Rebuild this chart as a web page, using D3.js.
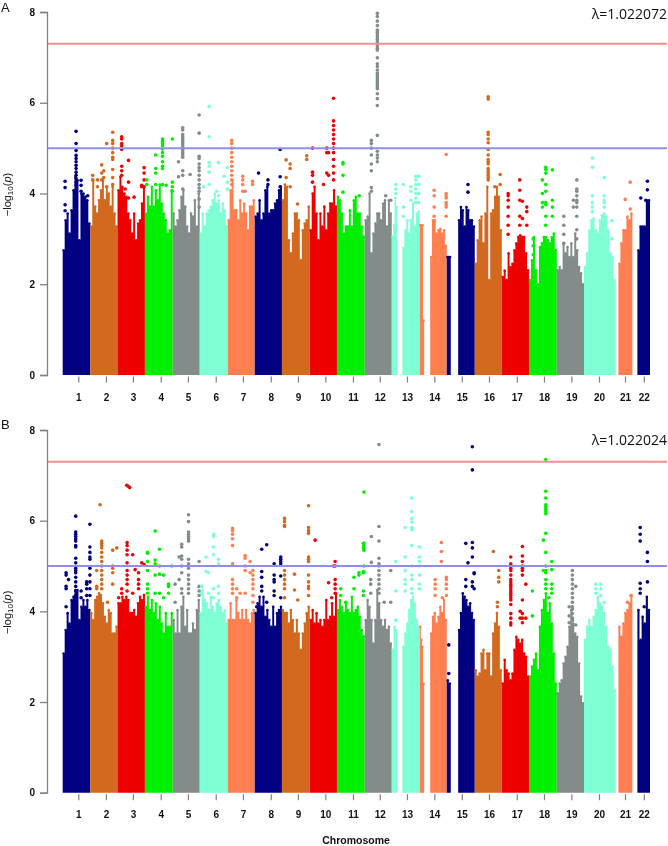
<!DOCTYPE html>
<html><head><meta charset="utf-8">
<script src="https://cdn.jsdelivr.net/npm/d3@7"></script>
<style>html,body{margin:0;padding:0;background:#fff}svg{display:block;filter:blur(.4px)}</style>
</head><body><svg id="c" width="668" height="846"></svg>
<script>
const chromosomes=["1","2","3","4","5","6","7","8","9","10","11","12","13","14","15","16","17","18","19","20","21","22"];
const chromEnds=[138,274,411,550,685,825,960,1096,1235,1371,1510,1645,1785,1920,2060,2195,2331,2470,2606,2765,2848,2936];
const tickPositions=[78,216,351,490,626,765,901,1040,1176,1313,1451,1585,1721,1858,1995,2131,2270,2406,2543,2681,2811,2905];
const palette=["#000080","#D2691E","#EE0000","#00EE00","#838B8B","#7FFFD4","#FF7F50"];
const yTicks=[0,2,4,6,8];
const genomeWide=7.3, suggestive=5;
// genotyped regions [start,end] and the chromosome each belongs to
const spans=[[0,138],[138,274],[274,411],[411,550],[550,685],[685,825],[825,960],[960,1096],[1096,1235],[1235,1371],[1371,1510],[1510,1645],[1645,1673],[1698,1785],[1785,1807],[1837,1920],[1920,1940],[1977,2060],[2060,2195],[2195,2331],[2331,2470],[2470,2606],[2606,2765],[2778,2848],[2873,2936]];
const spanChrom=[0,1,2,3,4,5,6,7,8,9,10,11,12,12,13,13,14,14,15,16,17,18,19,20,21];
// upper edge of the dense SNP cloud, read along each region
const massA=[
[2.75,3.41,3.56,3.12,3.63,4.07,4.37,4.29,2.97,4.0,4.0,3.93,3.85,3.34],
[3.27,4.29,3.71,3.56,3.85,4.07,4.29,3.85,4.15,4.0,3.71,4.15,3.56,3.27],
[4.07,4.37,4.15,4.0,3.93,3.56,3.41,3.12,3.56,2.97,3.34,3.41,3.78,4.15],
[3.56,3.93,3.71,4.15,3.71,4.07,3.85,4.2,3.78,3.56,3.41,3.12,3.19,4.07],
[3.56,3.27,3.41,3.63,3.93,4.07,3.71,3.27,3.12,3.56,3.49,3.85,3.27,4.0],
[3.12,3.56,3.27,3.56,3.63,3.71,3.85,4.0,3.78,3.85,3.56,3.78,3.63,3.27],
[3.41,4.07,4.29,3.63,3.63,3.41,3.85,3.56,3.78,3.56,3.19,3.71,3.71,3.85],
[3.49,3.56,3.85,3.41,3.56,4.07,4.15,3.56,3.63,3.63,3.78,3.85,4.07,4.15],
[3.85,4.2,4.15,2.97,2.68,3.12,3.56,3.56,3.41,2.53,3.19,3.34,3.41,3.71],
[3.19,4.0,4.15,3.56,2.97,3.56,3.27,3.71,3.19,3.56,3.78,3.78,4.07,3.71],
[3.93,3.85,3.56,3.12,3.27,3.27,3.63,3.27,3.85,3.93,3.56,3.56,3.27,3.05],
[3.41,3.49,4.0,2.68,3.12,3.34,3.56,3.56,3.41,3.78,3.85,3.27,3.85,3.56],
[3.05,3.3,3.9,3.7],
[2.8,3.19,3.41,3.12,3.41,3.78,3.27,3.56,3.6],
[3.3,3.3,3.3,1.2],
[2.6,3.41,3.41,3.12,3.19,3.22,3.12,3.19,2.85],
[2.6,2.6,2.6],
[3.41,3.7,3.63,3.27,3.7,3.63,3.41,3.41,3.27],
[2.45,2.97,3.41,3.49,2.9,3.56,4.15,2.09,3.56,3.63,3.93,4.15,3.93,3.19],
[2.16,2.3,2.09,2.68,2.38,2.45,2.75,2.9,3.04,3.08,3.04,3.04,2.68,2.31],
[2.09,2.53,3.04,2.31,2.0,2.82,2.9,3.04,3.04,2.97,2.9,3.04,3.12,2.75],
[2.31,2.38,2.31,2.9,2.68,2.82,2.6,2.9,2.6,3.12,2.75,2.38,2.24,2.0],
[2.38,2.68,3.19,3.41,3.45,3.19,3.12,3.41,3.52,3.56,3.49,3.19,2.68,2.6,2.09],
[2.45,2.9,3.19,3.19,3.49,3.41,3.56],
[2.75,3.27,3.27,3.27,3.85,3.85]];
const massB=[
[3.07,3.59,3.96,3.73,4.25,4.32,4.47,4.47,3.81,4.1,4.25,4.1,4.25,4.03],
[3.96,3.81,4.25,4.32,4.4,4.36,4.18,3.88,3.73,4.03,3.96,3.51,3.51,3.66],
[4.18,4.18,4.32,4.25,4.32,4.25,3.96,3.96,4.03,3.88,4.18,4.32,4.25,4.36],
[4.1,4.32,4.03,4.25,3.96,4.18,3.81,4.1,3.73,3.51,3.96,3.66,3.66,3.96],
[3.81,3.51,4.03,3.51,4.1,4.32,3.66,4.03,3.51,3.51,3.73,3.59,4.03,4.25],
[3.96,4.47,4.25,4.18,4.03,4.32,4.1,3.96,4.18,4.25,4.1,3.96,4.03,3.73],
[3.81,4.18,3.81,3.81,4.25,3.96,3.81,4.03,3.81,4.03,3.81,3.73,3.96,4.03],
[3.96,4.18,4.32,4.1,4.32,3.88,4.03,3.81,3.66,4.1,3.66,3.96,4.03,4.1],
[4.03,3.96,3.96,3.73,4.03,3.81,3.51,3.81,3.51,3.15,3.51,3.73,3.96,4.1],
[3.81,4.03,3.73,3.96,3.73,3.81,3.66,3.81,4.25,3.81,3.88,4.18,3.88,4.4],
[4.03,4.25,4.1,3.96,4.18,4.03,3.96,4.32,3.96,4.03,4.1,3.88,3.59,3.45],
[3.81,4.25,4.1,3.81,3.29,3.81,4.47,4.18,3.81,3.66,3.81,3.59,3.66,3.29],
[3.15,3.66,3.59],
[3.22,3.51,3.73,4.03,4.25,4.32,4.18,3.81,3.66],
[3.66,3.37,3.22,2.4],
[3.51,3.88,3.96,3.73,3.88,4.1,3.96,4.25,3.81],
[2.48,2.41],
[3.59,3.96,4.4,4.32,4.25,4.1,4.18,3.96,3.81],
[2.7,2.56,2.63,3.07,3.15,2.7,3.07,3.07,2.56,3.51,3.73,3.96,3.66,2.7],
[2.41,2.93,2.7,2.63,2.48,2.63,3.15,3.44,3.37,3.29,3.37,3.07,3.0,2.56],
[2.56,2.78,2.93,3.07,2.7,3.66,4.03,4.25,4.4,3.96,4.18,3.73,3.07,2.41],
[2.19,2.41,2.48,2.85,3.0,3.22,3.66,4.03,3.73,3.51,3.44,2.85,2.12,1.97],
[3.37,3.66,3.81,3.66,3.88,4.03,4.32,4.18,4.1,3.96,3.66,3.22,3.15,2.78,2.26],
[3.66,3.44,3.73,3.96,4.03,4.18,4.36],
[4.03,3.37,3.88,3.73,4.32,4.03]];
// individual SNPs above the mass: [position,[-log10 p values]]
const snpsA=[
[67,[5.37,5.1,4.95,4.84,4.77,4.7,4.62,4.55,4.47,4.4,4.33,4.25,4.18,4.1]],[12,[4.27,4.13,3.75,3.62]],[92,[4.29,4.18,4.05]],[125,[3.95]],
[250,[5.35,5.17,5.1,5.0,4.9,4.8,4.75,4.53,4.35,4.2]],[220,[5.1,4.15]],[195,[4.63,4.45,4.3]],[205,[4.5,4.35]],[150,[4.4,4.3]],[174,[4.3,4.15]],
[295,[5.25,5.2,5.1,5.05,4.97,4.6,4.5,4.4]],[329,[4.73,4.25,3.9]],[357,[3.92]],[407,[4.57,4.45,4.3,4.15]],[395,[4.18,4.15]],[312,[4.1]],
[499,[5.2,5.15,5.1,5.05,4.98,4.9,4.82,4.7,4.6,4.55,4.2]],[548,[5.2,4.25,4.15,4.05]],[465,[4.85,4.55,4.45,4.2]],[420,[4.3,4.2]],[517,[4.18]],
[600,[5.45,5.4,5.3,5.25,5.2,5.15,5.1,5.05,5.0,4.95,4.9,4.85,4.8,4.5,4.4,4.1]],[579,[4.7,4.37]],[637,[4.42]],[682,[5.73,5.33,4.82,4.77,4.65,4.57,4.5,4.4,4.3,4.2,4.12,4.05,3.88,3.7]],
[732,[5.92,5.25,4.68,4.6,4.47,4.2]],[779,[4.68,3.95]],[704,[4.15]],[770,[4.05]],[807,[4.38]],[823,[4.57,4.25,4.1]],
[845,[5.17,5.1,5.0,4.9,4.8,4.7,4.6,4.5,4.4,4.3,4.2]],[900,[4.38,4.3,4.2,4.05]],[912,[4.05]],[949,[4.27,4.2]],
[979,[4.45]],[1026,[4.3,4.2]],[1087,[4.97,4.37,4.15]],
[1117,[4.74,4.35]],[1137,[4.65,4.55,4.15]],[1174,[3.77]],[1220,[4.83,4.75]],
[1249,[5.0,4.47,4.4,4.25]],[1320,[5.0,4.9,4.45]],[1304,[4.2]],[1354,[6.1,5.6,5.5,5.4,5.3,5.2,5.1,5.0,4.9,4.75,4.6,4.45,4.3]],[1329,[4.9,4.4]],
[1401,[4.68,4.65,4.4,4.03]],[1482,[3.95]],
[1573,[7.97,7.9,7.8,7.7,7.6,7.55,7.5,7.45,7.4,7.35,7.3,7.25,7.2,7.16,6.99,6.86,6.8,6.72,6.65,6.6,6.55,6.5,6.45,6.4,6.35,6.31,6.2,6.09,5.94,5.28,4.93,4.85,4.78,4.7]],[1543,[5.17,5.1,5.0,4.85,4.65,4.5,4.13,4.05]],[1615,[3.95]],[1640,[3.85]],
[1665,[4.2,4.1,4.0]],[1703,[4.2,3.7,3.5]],[1740,[4.15,4.05,3.85]],[1765,[4.38,4.3,4.2,4.1,4.0,3.9,3.8]],[1780,[4.38,4.2,4.0,3.8]],
[1857,[4.07,3.95,3.7,3.5]],[1917,[4.86,4.0,3.95,3.9,3.8,3.75,3.7,3.5]],
[2026,[4.2,4.03]],
[2127,[6.13,6.08,5.35,5.3,5.2,5.12,4.97,4.85,4.75,4.7,4.65,4.55,4.5,4.45,4.4,4.35,4.3]],[2160,[4.15]],[2187,[4.42,4.2]],
[2227,[4.0,3.95,3.85,3.7,3.5,3.3,3.1]],[2285,[4.3,4.07,3.85,3.5,3.3]],[2298,[3.83,3.45]],[2320,[3.7,3.6,3.3]],
[2415,[4.58,4.53,4.45,4.2,4.05,3.8,3.75,3.5,3.3]],[2448,[4.52,3.85,3.7,3.5]],[2398,[4.3,4.0,3.8,3.7]],[2352,[3.0,2.85,2.65]],
[2570,[4.3,4.1,4.05,3.95,3.85,3.8,3.7,3.5,3.2,3.0]],[2553,[3.85,3.7]],[2505,[3.5,3.3,3.1,2.9]],
[2648,[4.78,4.58,3.95,3.8,3.7,3.6]],[2707,[4.35,3.95,3.85,3.8,3.7]],[2745,[3.4,3.0]],
[2837,[4.25,3.66]],[2812,[3.87]],
[2923,[4.27,4.08]],[2890,[3.9]],[2915,[3.85]]];
const snpsB=[
[65,[6.1,5.75,5.7,5.65,5.6,5.55,5.45,5.42,5.17,5.07,4.95,4.9,4.85,4.75,4.65,4.55,4.45,4.35]],[136,[5.92,5.42,5.3,5.2,5.15,4.95,4.8,4.65,4.5,4.35]],[17,[4.85,4.8,4.55,4.5,4.1]],[29,[4.7]],[92,[4.45,4.3]],[120,[4.65,4.6,4.5,4.35]],
[195,[5.55,5.5,5.45,5.4,5.3,5.2,5.1,5.0,4.9,4.8,4.7,4.6,4.5]],[187,[6.35]],[170,[4.9,4.55,4.5]],[250,[5.35,5.0,4.95,4.85,4.6]],[270,[5.4]],[224,[4.2]],
[320,[6.78]],[327,[6.76]],[335,[6.73]],[322,[5.52,5.45,5.35,5.25,5.07,4.9,4.8,4.7,4.6,4.45]],[350,[5.25,4.4]],[362,[4.92]],[379,[4.85,4.7,4.6,4.5]],[395,[5.07]],[407,[5.03]],[295,[4.5,4.4]],[280,[4.3]],
[424,[5.3,5.28,5.1,4.9,4.6,4.5,4.4]],[462,[5.77,5.13,5.05,4.8,4.4]],[484,[5.37,5.0,4.82,4.4]],[504,[4.8,4.3]],[529,[4.6,4.55,4.4]],[545,[5.0]],
[629,[6.13,5.98,5.75,5.7,5.65,5.6,5.55,5.15,5.05,4.95,4.8,4.7,4.6,4.5,4.4]],[595,[5.48,5.42,5.22,5.15,5.0,4.85,4.5,4.4]],[582,[5.2,4.7]],[682,[5.1,4.55,4.45,4.35]],[562,[4.6,4.2]],
[754,[5.7,5.65,5.42,5.25,4.5,4.3]],[717,[5.2,4.88]],[729,[4.85,4.4]],[779,[5.15,5.05,4.55,4.4]],[695,[4.55,4.4]],
[849,[5.83,5.78,5.7,5.6,5.45,5.05,4.7,4.6,4.5,4.4]],[912,[5.23,5.17,5.0,4.9,4.4]],[937,[5.1,4.85]],[951,[4.9,4.8,4.7,4.6,4.5,4.35,4.2]],[870,[4.5,4.3]],[887,[4.4]],
[995,[5.37,4.88,4.75,4.55,4.45]],[1020,[5.47,4.2]],[1057,[5.05,4.8,4.7,4.65,4.45,4.35]],[1090,[5.2,5.15,5.1,5.05,4.78,4.3]],[970,[4.1]],
[1109,[6.05,5.98,5.9,5.87,4.9,4.8,4.7,4.6,4.5,4.3]],[1159,[4.82,4.47]],[1175,[4.25]],[1229,[6.33,5.85,5.78,5.72,5.2,5.15,5.1,4.8,4.65,4.55,4.5,4.35]],
[1262,[5.57]],[1329,[4.63]],[1354,[5.0]],[1345,[4.3]],[1362,[5.1,5.0,4.7,4.6,4.5,4.4]],
[1506,[6.63,5.5,5.45,5.4,5.35,5.0]],[1503,[5.5,5.4,4.88,4.85,4.45,4.35]],[1481,[4.85,4.8]],[1456,[4.75,4.5]],[1390,[4.5,4.35]],[1415,[4.2]],
[1581,[7.68,5.87,5.55,5.17,5.05,5.0,4.9,4.8,4.7,4.6,4.5,4.4]],[1543,[5.65,5.08]],[1540,[4.7,4.6,4.4]],[1640,[4.9,4.2]],[1607,[4.2]],
[1665,[5.1,4.45,3.8]],[1712,[5.85,5.2,4.9,4.7,4.6,4.45]],[1745,[6.5,6.2,6.05,5.97,5.85,5.8,5.45,5.0,4.8,4.7,4.5,4.4]],[1783,[5.42,5.2,5.1,5.0,4.8,4.6,4.5]],
[1893,[5.52,5.32,5.1]],[1918,[4.75,4.7,4.6,4.5,4.35]],[1862,[4.7,4.6,4.5,4.35]],[1898,[4.3]],[1930,[3.26,2.63]],
[2048,[7.63,7.12,5.52,5.4,5.2,4.65,4.55]],[2015,[5.5,4.7,4.55]],[2026,[5.07]],[2057,[4.85,4.83,4.5]],
[2153,[5.32]],[2180,[4.9,4.75,4.65]],[2173,[4.2,4.1]],
[2240,[5.2,5.05,5.0,4.95,4.9,4.8,4.7,4.65,4.6,4.55,4.5,4.45,4.4,4.35,4.3,4.25,4.15,3.95,3.85,3.75,3.7]],[2298,[5.43,5.22,5.1,5.0,4.95,4.9,4.8,4.25,3.95,3.85,3.75]],[2315,[4.6,3.85]],[2348,[4.45,3.9]],[2287,[4,3.85]],
[2415,[7.35,6.65,6.5,6.35,6.3,6.25,6.2,6.15,5.72,5.3,5.0,4.9,4.85,4.7,4.6,4.5]],[2403,[5.57,4.9]],[2445,[5.1,4.92,4.6,4.5,4.4]],[2430,[4.3]],
[2548,[4.9,4.8,4.7,4.6,4.5,4.4,4.3,4.2,4.1,4.05,3.95,3.85,3.8,3.7]],[2565,[4.55,3.7]],[2532,[4.1,3.9,3.75]],
[2665,[4.6,4.5,4.4]],[2690,[4.6,4.5,4.35]],[2707,[4.2]],
[2840,[4.35]],[2823,[4.2]],
[2887,[5.85,5.7,5.55,4.62,4.5,4.4]],[2923,[5.3,5.1,4.65]],[2907,[4.1]]];

const panels=[
 {letter:"A",lambda:"λ=1.022072",mass:massA,snps:snpsA,top:12,zero:375,letterY:12,lambdaY:19},
 {letter:"B",lambda:"λ=1.022024",mass:massB,snps:snpsB,top:430,zero:792.7,letterY:429,lambdaY:445}];
const svg=d3.select("#c");
const x=d3.scaleLinear().domain([0,2936]).range([62.7,650]);
const colorOf=p=>palette[d3.bisectLeft(chromEnds,p)%palette.length];
const font="'Liberation Sans',Arial,sans-serif";
panels.forEach(P=>{
  const y=d3.scaleLinear().domain([0,8]).range([P.zero,P.top]);
  const g=svg.append("g");
  spans.forEach((s,i)=>{
    const tops=P.mass[i], w=(s[1]-s[0])/tops.length, col=palette[spanChrom[i]%palette.length];
    const bw=x(s[0]+w)-x(s[0]);
    const sg=g.append("g").attr("fill",col);
    // closed silhouette, so no seams appear between neighbouring columns
    const area=d3.area().curve(d3.curveStepAfter).x(d=>x(d[0])).y0(y(0)).y1(d=>y(d[1]));
    const pts=tops.map((t,k)=>[s[0]+k*w,t]); pts.push([s[1],tops[tops.length-1]]);
    sg.append("path").attr("d",area(pts));
    sg.selectAll("circle").data(tops).join("circle")
      .attr("cx",(d,k)=>x(s[0]+(k+.5)*w)).attr("cy",d=>y(d)).attr("r",Math.max(1.3,bw/2+.2));
  });
  P.snps.forEach(([pos,vals])=>{
    g.selectAll(null).data(vals).join("circle").attr("cx",x(pos)).attr("cy",d=>y(d)).attr("r",1.8).attr("fill",colorOf(pos));
  });
  [[genomeWide,"#F28F8F"],[suggestive,"#8F8FEA"]].forEach(([v,c])=>{
    g.append("line").attr("x1",47).attr("x2",667).attr("y1",y(v)).attr("y2",y(v)).attr("stroke",c).attr("stroke-width",2);
  });
  const ya=g.append("g").attr("transform","translate(47,0)").call(d3.axisLeft(y).tickValues(yTicks).tickFormat(d3.format("d")).tickSize(7).tickPadding(5));
  ya.selectAll("path,line").attr("stroke","#808080").attr("stroke-width",1.3);
  ya.selectAll("text").attr("font-family",font).attr("font-size",10).attr("font-weight","bold").attr("fill","#111");
  const xa=g.append("g").attr("transform",`translate(0,${P.zero+1.5})`).call(d3.axisBottom(x).tickValues(tickPositions).tickFormat((d,i)=>chromosomes[i]).tickSize(6).tickPadding(11));
  xa.select(".domain").remove();
  xa.selectAll("line").attr("stroke","#808080").attr("stroke-width",1.2);
  xa.selectAll("text").attr("font-family",font).attr("font-size",10).attr("font-weight","bold").attr("fill","#111");
  const yl=g.append("text").attr("transform",`translate(11,${(P.top+P.zero)/2+1}) rotate(-90)`).attr("text-anchor","middle").attr("font-family",font).attr("font-size",11).attr("fill","#111");
  yl.append("tspan").text("−log");
  yl.append("tspan").text("10").attr("font-size",8).attr("dy",2);
  yl.append("tspan").text("(").attr("dy",-2);
  yl.append("tspan").text("p").attr("font-style","italic");
  yl.append("tspan").text(")");
  g.append("text").attr("x",1).attr("y",P.letterY).attr("font-family",font).attr("font-size",13).attr("fill","#111").text(P.letter);
  g.append("text").attr("x",667).attr("y",P.lambdaY).attr("text-anchor","end").attr("font-family","'Open Sans',sans-serif").attr("font-size",14).attr("fill","#111").text(P.lambda);
});
svg.append("text").attr("x",356).attr("y",844).attr("text-anchor","middle").attr("font-family",font).attr("font-size",10.5).attr("font-weight","bold").attr("fill","#111").text("Chromosome");
</script></body></html>
